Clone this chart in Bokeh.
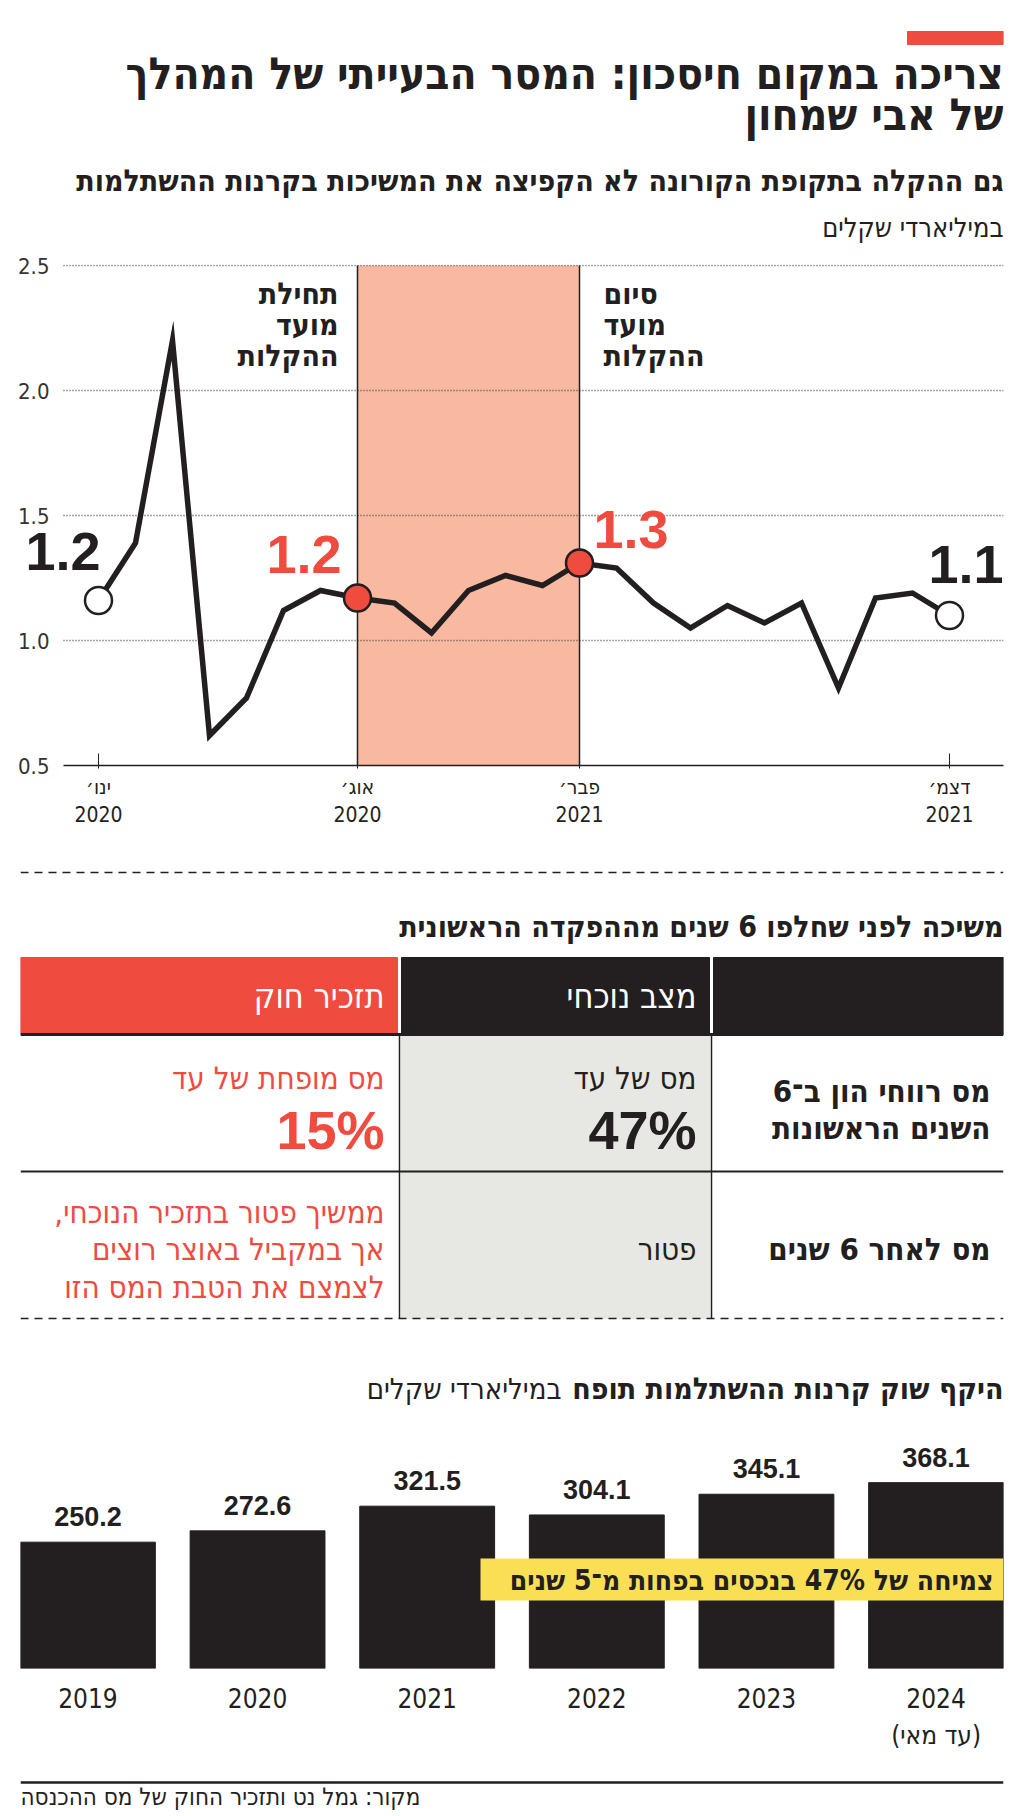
from bokeh.plotting import figure
from bokeh.layouts import column
from bokeh.models import (Range1d, FixedTicker, BoxAnnotation, Label, LabelSet,
                          ColumnDataSource, NumeralTickFormatter)
from bokeh.embed import file_html
from bokeh.resources import INLINE
from bokeh.core.properties import value

# ---------------- data ----------------
title_lines = ["צריכה במקום חיסכון: המסר הבעייתי של המהלך", "של אבי שמחון"]
line_title = "גם ההקלה בתקופת הקורונה לא הקפיצה את המשיכות בקרנות ההשתלמות"
line_unit = "במיליארדי שקלים"

months = ["2020-01", "2020-02", "2020-03", "2020-04", "2020-05", "2020-06",
          "2020-07", "2020-08", "2020-09", "2020-10", "2020-11", "2020-12",
          "2021-01", "2021-02", "2021-03", "2021-04", "2021-05", "2021-06",
          "2021-07", "2021-08", "2021-09", "2021-10", "2021-11", "2021-12"]
withdrawals = [1.16, 1.39, 2.20, 0.62, 0.77, 1.12, 1.20, 1.17, 1.15, 1.03, 1.20, 1.26,
               1.22, 1.31, 1.29, 1.15, 1.05, 1.14, 1.07, 1.15, 0.81, 1.17, 1.19, 1.10]
tick_months = ["2020-01", "2020-08", "2021-02", "2021-12"]
tick_labels = ["ינו׳\n2020", "אוג׳\n2020", "פבר׳\n2021", "דצמ׳\n2021"]
y_ticks = [0.5, 1.0, 1.5, 2.0, 2.5]
relief_start, relief_end = "2020-08", "2021-02"
relief_start_label = ["תחילת", "מועד", "ההקלות"]
relief_end_label = ["סיום", "מועד", "ההקלות"]
callout_months = ["2020-01", "2020-08", "2021-02", "2021-12"]
callout_texts = ["1.2", "1.2", "1.3", "1.1"]

table_title = "משיכה לפני שחלפו 6 שנים מההפקדה הראשונית"
col_headers = ["", "מצב נוכחי", "תזכיר חוק"]
row_labels = [["מס רווחי הון ב־6", "השנים הראשונות"], ["מס לאחר 6 שנים"]]
current_law = [["מס של עד", "47%"], ["פטור"]]
proposal = [["מס מופחת של עד", "15%"],
            ["ממשיך פטור בתזכיר הנוכחי,\u200f", "אך במקביל באוצר רוצים", "לצמצם את הטבת המס הזו"]]

bar_title_bold = "היקף שוק קרנות ההשתלמות תופח"
bar_title_unit = "במיליארדי שקלים"
years = [2019, 2020, 2021, 2022, 2023, 2024]
fund_assets = [250.2, 272.6, 321.5, 304.1, 345.1, 368.1]
year_labels = ["2019", "2020", "2021", "2022", "2023", "2024\n(עד מאי)"]
growth_note = "צמיחה של 47% בנכסים בפחות מ־5 שנים"
source_note = "מקור: גמל נט ותזכיר החוק של מס ההכנסה"

# ---------------- styles ----------------
W = 1024
L, R = 20, 1003          # frame edges shared by every figure
RED = "#F04B3F"
INK = "#231F20"
SALMON = "#F9B8A0"
GRAYCELL = "#E7E7E3"
YELLOW = "#FADF55"
HEB = "DejaVu Sans Condensed"
NUM = "Liberation Sans"


def canvas(top, h):
    p = figure(width=W, height=h, x_range=Range1d(L, R), y_range=Range1d(top + h, top),
               x_axis_location=None, y_axis_location=None, toolbar_location=None,
               output_backend="svg", min_border_left=L, min_border_right=W - R,
               min_border_top=0, min_border_bottom=0, outline_line_color=None)
    p.grid.visible = False
    p.background_fill_color = "white"
    p.border_fill_color = "white"
    return p


def txt(p, x, y, s, size, color=INK, bold=False, align="right", baseline="middle", font=HEB):
    p.text(x=[x], y=[y], text=[s], text_font=value(font), text_font_size=f"{size}px",
           text_font_style="bold" if bold else "normal", text_color=color,
           text_align=align, text_baseline=baseline)


# ---------------- header (0-250) ----------------
ph = canvas(0, 250)
ph.quad(left=[907], right=[1003], top=[31], bottom=[44], color=RED)
txt(ph, 1003, 73, title_lines[0], 44, bold=True)
txt(ph, 1003, 114, title_lines[1], 44, bold=True)
txt(ph, 1003, 180, line_title, 30, bold=True)
txt(ph, 1003, 227, line_unit, 27)

# ---------------- line chart (250-850) ----------------
idx = {m: i for i, m in enumerate(months)}
xs = list(range(len(months)))
PX_MONTH = 37.0
x0 = -(98 - L) / PX_MONTH
x1 = x0 + (R - L) / PX_MONTH
x_grid_start = -(98 - 63) / PX_MONTH
pl = figure(width=W, height=600, x_range=Range1d(x0, x1),
            y_range=Range1d(y_ticks[0], y_ticks[-1] + 0.004),
            toolbar_location=None, output_backend="svg", min_border_left=L,
            min_border_right=W - R, min_border_top=14, min_border_bottom=85,
            outline_line_color=None)
pl.background_fill_color = "white"
pl.border_fill_color = "white"
pl.xgrid.visible = False
yg = pl.ygrid[0]
yg.ticker = FixedTicker(ticks=y_ticks)
yg.grid_line_color = "#4a4a4a"
yg.grid_line_dash = "1 2"
yg.grid_line_width = 1.3
if "cross_bounds" in yg.properties():
    yg.cross_bounds = (x_grid_start, x1)

pl.yaxis.ticker = FixedTicker(ticks=y_ticks)
pl.yaxis.formatter = NumeralTickFormatter(format="0.0")
pl.yaxis.axis_line_color = None
pl.yaxis.major_tick_line_color = None
pl.yaxis.minor_tick_line_color = None
pl.yaxis.major_tick_out = 0
pl.yaxis.major_tick_in = 0
pl.yaxis.major_label_standoff = -29
pl.yaxis.major_label_text_font = HEB
pl.yaxis.major_label_text_font_size = "22px"
pl.yaxis.major_label_text_color = "#333333"

pl.xaxis.ticker = FixedTicker(ticks=[idx[m] for m in tick_months])
pl.xaxis.major_label_overrides = {idx[m]: lab for m, lab in zip(tick_months, tick_labels)}
pl.xaxis.bounds = (x_grid_start, x1)
pl.xaxis.axis_line_color = INK
pl.xaxis.axis_line_width = 1.5
pl.xaxis.major_tick_in = 12
pl.xaxis.major_tick_out = 3
pl.xaxis.major_tick_line_color = INK
pl.xaxis.minor_tick_line_color = None
pl.xaxis.major_label_standoff = 6
pl.xaxis.major_label_text_font = HEB
pl.xaxis.major_label_text_font_size = "21px"
pl.xaxis.major_label_text_color = INK

pl.add_layout(BoxAnnotation(left=idx[relief_start], right=idx[relief_end],
                            bottom=y_ticks[0], top=y_ticks[-1], fill_color=SALMON,
                            fill_alpha=1, line_color=None, level="image"))
band_x = [idx[relief_start], idx[relief_end]]
pl.segment(x0=band_x, y0=[y_ticks[0]] * 2, x1=band_x, y1=[y_ticks[-1]] * 2,
           line_color=INK, line_width=1.5)

for k, s in enumerate(relief_start_label):
    pl.add_layout(Label(x=idx[relief_start], y=y_ticks[-1], text=s, x_offset=-19,
                        y_offset=-28 - 31 * k, text_align="right", text_baseline="middle",
                        text_font=HEB, text_font_size="30px", text_font_style="bold",
                        text_color=INK))
for k, s in enumerate(relief_end_label):
    pl.add_layout(Label(x=idx[relief_end], y=y_ticks[-1], text=s, x_offset=24,
                        y_offset=-28 - 31 * k, text_align="left", text_baseline="middle",
                        text_font=HEB, text_font_size="30px", text_font_style="bold",
                        text_color=INK))

pl.line(xs, withdrawals, line_width=5.5, line_color=INK, line_join="miter")

c_x = [idx[m] for m in callout_months]
c_y = [withdrawals[idx[m]] for m in callout_months]
c_fill = ["white", RED, RED, "white"]
pl.scatter(c_x, c_y, size=27, fill_color=c_fill, line_color=INK, line_width=2.5)

c_color = [INK, RED, RED, INK]
c_align = ["right", "right", "left", "right"]
c_dx = [2, -16, 14, 54]
c_dy = [49, 44, 34, 51]
for x, y, s, col, al, dx, dy in zip(c_x, c_y, callout_texts, c_color, c_align, c_dx, c_dy):
    pl.add_layout(Label(x=x, y=y, text=s, x_offset=dx, y_offset=dy, text_align=al,
                        text_baseline="alphabetic", text_font=NUM, text_font_size="54px",
                        text_font_style="bold", text_color=col))

# ---------------- table + bar title (850-1410) ----------------
pt = canvas(850, 560)
pt.segment(x0=[L], y0=[872], x1=[R], y1=[872], line_color=INK, line_width=1.5, line_dash="8 6")
txt(pt, R, 926, table_title, 30, bold=True)

hdr_left = [713, 401, L]
hdr_right = [R, 709, 397]
hdr_fill = [INK, INK, RED]
pt.quad(left=hdr_left, right=hdr_right, top=[957] * 3, bottom=[1034] * 3, color=hdr_fill)
for i, h in enumerate(col_headers):
    if h:
        txt(pt, hdr_right[i] - 13, 995, h, 34, color="white")
pt.quad(left=[401], right=[709], top=[1035], bottom=[1318], color=GRAYCELL)
pt.segment(x0=[L], y0=[1034], x1=[R], y1=[1034], line_color=INK, line_width=3)
pt.segment(x0=[399, 711], y0=[1034, 1034], x1=[399, 711], y1=[1318, 1318],
           line_color=INK, line_width=1.5)
pt.segment(x0=[L], y0=[1171], x1=[R], y1=[1171], line_color=INK, line_width=2)
pt.segment(x0=[L], y0=[1318], x1=[R], y1=[1318], line_color=INK, line_width=1.5, line_dash="8 6")

# row 1
txt(pt, 990, 1090, row_labels[0][0], 31, bold=True)
txt(pt, 990, 1127, row_labels[0][1], 31, bold=True)
txt(pt, 696, 1077, current_law[0][0], 31)
txt(pt, 696, 1129, current_law[0][1], 54, bold=True, baseline="alphabetic", font=NUM)
txt(pt, 384, 1077, proposal[0][0], 31, color=RED)
txt(pt, 384, 1129, proposal[0][1], 54, color=RED, bold=True, baseline="alphabetic", font=NUM)
# row 2
txt(pt, 990, 1248, row_labels[1][0], 31, bold=True)
txt(pt, 696, 1248, current_law[1][0], 31)
for k, s in enumerate(proposal[1]):
    txt(pt, 384, 1211 + 37.5 * k, s, 31, color=RED)

# bar chart title
txt(pt, R, 1388, bar_title_bold, 30, bold=True)
txt(pt, 561, 1388, bar_title_unit, 29)

# ---------------- bar chart (1410-1760) ----------------
BW = 0.795
FRAME_H = 258
Y_MAX = 511
pb = figure(width=W, height=350, x_range=Range1d(years[0] - BW / 2, years[-1] + BW / 2),
            y_range=Range1d(0, Y_MAX), toolbar_location=None, output_backend="svg",
            min_border_left=L, min_border_right=W - R, min_border_top=0,
            min_border_bottom=350 - FRAME_H, y_axis_location=None, outline_line_color=None)
pb.grid.visible = False
pb.background_fill_color = "white"
pb.border_fill_color = "white"
src = ColumnDataSource(dict(year=years, v=fund_assets, lab=[f"{v:.1f}" for v in fund_assets]))
pb.vbar(x="year", top="v", width=BW, color=INK, source=src)
pb.add_layout(LabelSet(x="year", y="v", text="lab", source=src, y_offset=16,
                       text_align="center", text_baseline="alphabetic",
                       text_font=value(NUM), text_font_size="27px",
                       text_font_style="bold", text_color=INK))
pb.xaxis.ticker = FixedTicker(ticks=years)
pb.xaxis.major_label_overrides = {y: l for y, l in zip(years, year_labels)}
pb.xaxis.axis_line_color = None
pb.xaxis.major_tick_line_color = None
pb.xaxis.minor_tick_line_color = None
pb.xaxis.major_tick_out = 0
pb.xaxis.major_tick_in = 0
pb.xaxis.major_label_standoff = 15
pb.xaxis.major_label_text_font = HEB
pb.xaxis.major_label_text_font_size = "26px"
pb.xaxis.major_label_text_color = INK

# highlight box placed in frame pixels, converted to data units
px_per_x = (R - L) / (len(years) - 1 + BW)
px_per_y = FRAME_H / Y_MAX
frame_bottom = 1410 + FRAME_H
box_left = years[0] - BW / 2 + (480 - L) / px_per_x
box_bottom = (frame_bottom - 1600) / px_per_y
box_top = (frame_bottom - 1558) / px_per_y
pb.add_layout(BoxAnnotation(left=box_left, bottom=box_bottom, top=box_top, fill_color=YELLOW,
                            fill_alpha=1, line_color=None))
pb.add_layout(Label(x=years[-1] + BW / 2, y=(frame_bottom - 1580) / px_per_y, text=growth_note,
                    x_offset=-10, text_align="right", text_baseline="middle", text_font=HEB,
                    text_font_size="28px", text_font_style="bold", text_color=INK))

# ---------------- footer (1760-1816) ----------------
pf = canvas(1760, 56)
pf.segment(x0=[L], y0=[1782], x1=[R], y1=[1782], line_color=INK, line_width=2.5)
txt(pf, L, 1796, source_note, 24, align="left")

layout = column(ph, pl, pt, pb, pf, spacing=0)
open("out.html", "w").write(file_html(layout, INLINE))
